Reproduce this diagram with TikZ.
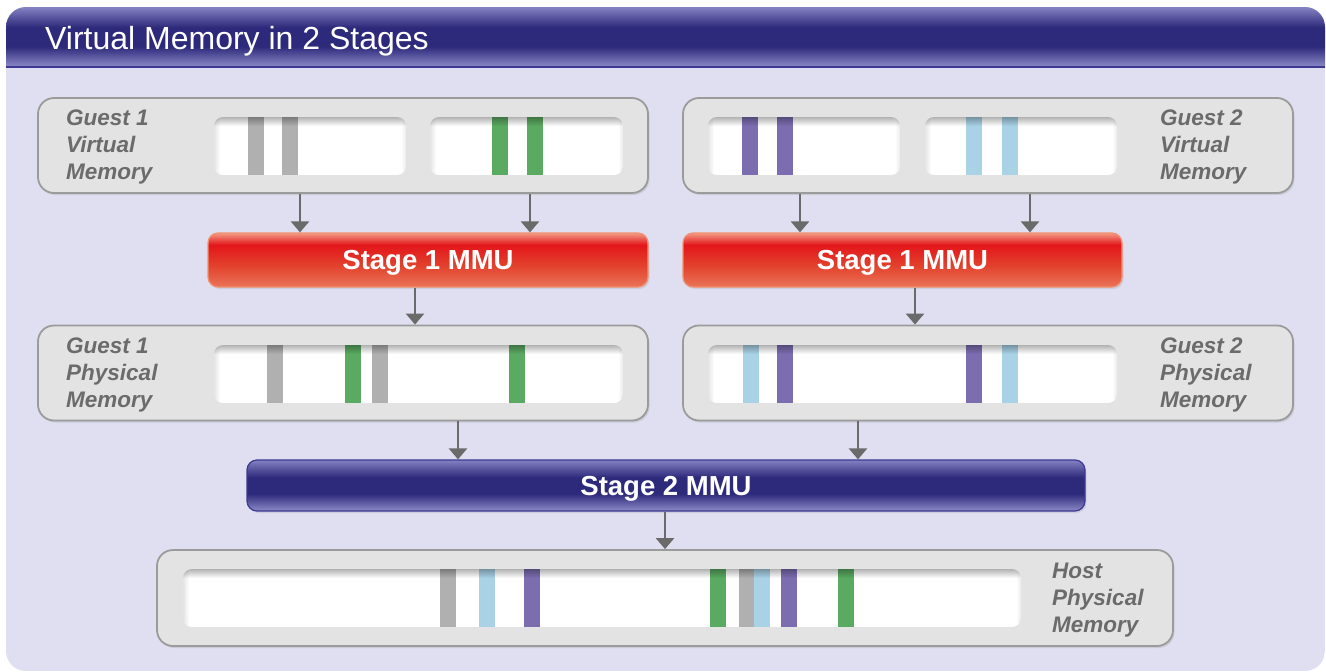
\documentclass[tikz,border=0pt]{standalone}
\usepackage{fontspec}
\setmainfont{Liberation Sans}
\usetikzlibrary{arrows.meta,shadows,fadings}

\definecolor{bglav}{HTML}{E0DFF1}
\definecolor{boxfill}{HTML}{E3E3E3}
\definecolor{boxline}{HTML}{9B9B9B}
\definecolor{lblgray}{HTML}{6B6B6B}
\definecolor{arrgray}{HTML}{6A6A6A}
\definecolor{sgray}{HTML}{B0B0B0}
\definecolor{sgreen}{HTML}{5BAA62}
\definecolor{spurple}{HTML}{7C6DB1}
\definecolor{sblue}{HTML}{A9D2E7}
\definecolor{btop}{HTML}{8482C2}
\definecolor{bmid}{HTML}{2E2A7B}
\definecolor{bbot}{HTML}{8C8AC8}
\definecolor{bline}{HTML}{3D3891}
\definecolor{rtop}{HTML}{F39A84}
\definecolor{rmid}{HTML}{E3161B}
\definecolor{rlow}{HTML}{E2412C}
\definecolor{rbot}{HTML}{EA7459}
\definecolor{rline}{HTML}{F0906E}

\pgfdeclareverticalshading{redsh}{100bp}{color(0bp)=(rbot); color(25bp)=(rbot); color(45bp)=(rlow); color(64bp)=(rmid); color(75bp)=(rtop); color(100bp)=(rtop)}
\pgfdeclareverticalshading{bluesh}{100bp}{color(0bp)=(bbot); color(25bp)=(bbot); color(42bp)=(bmid); color(58bp)=(bmid); color(75bp)=(btop); color(100bp)=(btop)}

\tikzfading[name=topshadow, top color=transparent!0, bottom color=transparent!100]
\tikzfading[name=leftshadow, left color=transparent!0, right color=transparent!100]
\tikzfading[name=rightshadow, left color=transparent!100, right color=transparent!0]

\newcommand\memslot[5]{%
\begin{scope}
\clip[rounded corners=9pt] (#1,#2) rectangle (#3,#4);
\fill[white] (#1,#2) rectangle (#3,#4);
\foreach \sx/\sc in {#5}{\fill[\sc] (\sx,#2) rectangle ({\sx+15.5},#4);}
\fill[black,fill opacity=0.30,path fading=topshadow] (#1,#2) rectangle (#3,{#2+9});
\fill[black,fill opacity=0.10,path fading=leftshadow] (#1,#2) rectangle ({#1+6},#4);
\fill[black,fill opacity=0.08,path fading=rightshadow] ({#3-5},#2) rectangle (#3,#4);
\end{scope}}

\tikzset{
  membox/.style={draw=boxline, line width=1.8pt, fill=boxfill, rounded corners=16pt,
    minimum width=610pt, minimum height=95pt, inner sep=0pt,
    drop shadow={opacity=0.22, shadow xshift=1.5pt, shadow yshift=-2pt}},
  mmured/.style={draw=rline, line width=1.2pt, shade, shading=redsh, rounded corners=10pt,
    minimum height=54pt, minimum width=440pt, inner sep=0pt, text=white, text depth=0pt,
    font=\fontsize{27.5}{30}\selectfont\bfseries,
    drop shadow={opacity=0.18, shadow xshift=1.5pt, shadow yshift=-2pt}},
  mmublue/.style={draw=bline, line width=1.2pt, shade, shading=bluesh, rounded corners=10pt,
    minimum height=51pt, minimum width=838pt, inner sep=0pt, text=white, text depth=0pt,
    font=\fontsize{27.5}{30}\selectfont\bfseries,
    drop shadow={opacity=0.18, shadow xshift=1.5pt, shadow yshift=-2pt}},
  lbl/.style={anchor=north west, inner sep=0pt, align=left, text=lblgray,
    font=\fontsize{22.5}{27}\selectfont\bfseries\itshape},
  arr/.style={draw=arrgray, line width=2.5pt, -{Triangle[width=18pt,length=11pt]}}
}

\begin{document}
\begin{tikzpicture}[x=1pt,y=-1pt]
\useasboundingbox (0,0) rectangle (1326,672);
% frame
\begin{scope}
\clip[rounded corners=20pt] (6,7) rectangle (1325,671);
\fill[bglav] (6,7) rectangle (1325,671);
\shade[shading=bluesh] (6,7) rectangle (1325,67);
\draw[bline, line width=1.2pt] (6,67) -- (1325,67);
\end{scope}
\node[anchor=base west, inner sep=0pt, text=white, font=\fontsize{32}{36}\selectfont] (title) at (45,49) {Virtual Memory in 2 Stages};

% memory boxes
\node[membox] (g1v) at (343,145.5) {};
\node[membox] (g2v) at (988,145.5) {};
\node[membox] (g1p) at (343,373) {};
\node[membox] (g2p) at (988,373) {};
\node[membox, minimum width=1016pt, minimum height=96pt] (host) at (665,598) {};

\memslot{214}{117}{406}{175}{248/sgray,282/sgray}
\memslot{430}{117}{623}{175}{492/sgreen,527/sgreen}
\memslot{708}{117}{900}{175}{742/spurple,777/spurple}
\memslot{925}{117}{1117}{175}{966/sblue,1002/sblue}
\memslot{214}{345}{623}{403}{267/sgray,345/sgreen,372/sgray,509/sgreen}
\memslot{708}{345}{1117}{403}{743/sblue,777/spurple,966/spurple,1002/sblue}
\memslot{183}{569}{1021}{627}{440/sgray,479/sblue,524/spurple,710/sgreen,739/sgray,754/sblue,781/spurple,838/sgreen}

\node[lbl] (l1v) at (66,110) {Guest 1\\Virtual\\Memory};
\node[lbl] (l2v) at (1160,110) {Guest 2\\Virtual\\Memory};
\node[lbl] (l1p) at (66,338) {Guest 1\\Physical\\Memory};
\node[lbl] (l2p) at (1160,338) {Guest 2\\Physical\\Memory};
\node[lbl] (lh) at (1052,563) {Host\\Physical\\Memory};

% MMUs
\node[mmured] (m1l) at (428,260) {Stage 1 MMU};
\node[mmured, minimum width=439pt] (m1r) at (902.5,260) {Stage 1 MMU};
\node[mmublue] (m2) at (666,485.5) {Stage 2 MMU};

% arrow columns
\coordinate (ca) at (300,0);
\coordinate (cb) at (530,0);
\coordinate (cc) at (800,0);
\coordinate (cd) at (1030,0);
\coordinate (ce) at (415,0);
\coordinate (cf) at (915,0);
\coordinate (cg) at (458,0);
\coordinate (ch) at (858,0);
\coordinate (ci) at (665,0);

\draw[arr] (g1v.south -| ca) -- (m1l.north -| ca);
\draw[arr] (g1v.south -| cb) -- (m1l.north -| cb);
\draw[arr] (g2v.south -| cc) -- (m1r.north -| cc);
\draw[arr] (g2v.south -| cd) -- (m1r.north -| cd);
\draw[arr] (m1l.south -| ce) -- (g1p.north -| ce);
\draw[arr] (m1r.south -| cf) -- (g2p.north -| cf);
\draw[arr] (g1p.south -| cg) -- (m2.north -| cg);
\draw[arr] (g2p.south -| ch) -- (m2.north -| ch);
\draw[arr] (m2.south -| ci) -- (host.north -| ci);
\end{tikzpicture}
\end{document}
